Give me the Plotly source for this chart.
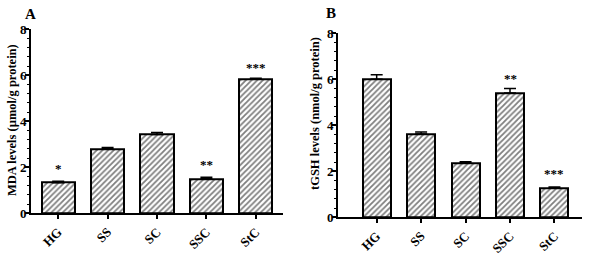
import plotly.graph_objects as go

categories = ["HG", "SS", "SC", "SSC", "StC"]
mda_values = [1.33, 2.80, 3.43, 1.50, 5.84]
mda_err = [0.06, 0.06, 0.08, 0.07, 0.03]
gsh_values = [6.00, 3.62, 2.35, 5.40, 1.26]
gsh_err = [0.20, 0.09, 0.06, 0.20, 0.06]
mda_stars = ["*", "", "", "**", "***"]
gsh_stars = ["", "", "", "**", "***"]
yticks = [0, 2, 4, 6, 8]

FONT = "Liberation Serif"
W, H = 590, 255


def px(x):
    return x / W


def py(y):
    return 1 - y / H


def bar(vals, errs, xa, ya, width):
    return go.Bar(
        x=categories, y=vals, xaxis=xa, yaxis=ya, width=width,
        marker=dict(color="white", line=dict(color="black", width=2),
                    pattern=dict(shape="/", fgcolor="black", bgcolor="white",
                                 size=4, solidity=0.45)),
        error_y=dict(type="data", symmetric=False, array=errs,
                     arrayminus=[0] * len(errs), color="black",
                     thickness=1.5, width=6),
        showlegend=False, hoverinfo="skip")


fig = go.Figure()
fig.add_trace(bar(mda_values, mda_err, "x", "y", 0.67))
fig.add_trace(bar(gsh_values, gsh_err, "x2", "y2", 0.63))

axis_common = dict(showline=True, linecolor="black", linewidth=2,
                   showgrid=False, zeroline=False, ticks="outside",
                   tickcolor="black", tickwidth=1.5, ticklen=4, automargin=False,
                   tickfont=dict(family=FONT, size=13, color="black", weight="bold"))

ytitle_font = dict(family=FONT, size=12.5, color="black", weight="bold")
minor = dict(dtick=0.4, ticks="outside", ticklen=2.5, tickcolor="black", tickwidth=1.2)

fig.update_layout(
    width=W, height=H, margin=dict(l=0, r=0, t=0, b=0),
    paper_bgcolor="white", plot_bgcolor="white", bargap=0,
    xaxis=dict(domain=[px(31), px(283)], range=[-0.55, 4.55], anchor="y",
               tickangle=-45, type="category", **axis_common),
    yaxis=dict(domain=[py(213.3), py(29.3)], range=[0, 8], anchor="x",
               tickvals=yticks, minor=minor, ticklabelstandoff=-4, **axis_common),
    xaxis2=dict(domain=[px(338), px(582)], range=[-0.87, 4.62], anchor="y2",
                tickangle=-45, type="category", **axis_common),
    yaxis2=dict(domain=[py(217.3), py(33.3)], range=[0, 8], anchor="x2",
                tickvals=yticks, minor=minor, ticklabelstandoff=-4, **axis_common),
)


def paper_text(x, y, text, font, angle=0):
    fig.add_annotation(x=px(x), y=py(y), xref="paper", yref="paper", text=text,
                       textangle=angle, xanchor="center", yanchor="middle",
                       showarrow=False, font=font)


# axis titles
paper_text(12, 120, "MDA levels (µmol/g protein)", ytitle_font, -90)
paper_text(315, 114, "tGSH levels (nmol/g protein)", ytitle_font, -90)

# panel letters
letter_font = dict(family=FONT, size=15, color="black", weight="bold")
paper_text(30, 14, "A", letter_font)
paper_text(331, 13, "B", letter_font)

star_y_a = [1.93, 0, 0, 2.14, 6.32]
star_y_b = [0, 0, 0, 6.04, 1.91]
star_font = dict(family=FONT, size=13, color="black", weight="bold")
for c, s, yy in zip(categories, mda_stars, star_y_a):
    if s:
        fig.add_annotation(x=c, y=yy, xref="x", yref="y", text=s, showarrow=False,
                           xanchor="center", yanchor="middle", font=star_font)
for c, s, yy in zip(categories, gsh_stars, star_y_b):
    if s:
        fig.add_annotation(x=c, y=yy, xref="x2", yref="y2", text=s, showarrow=False,
                           xanchor="center", yanchor="middle", font=star_font)

fig.write_html("out.html", config={"displayModeBar": False},
               post_script="document.body.style.margin='0';")
